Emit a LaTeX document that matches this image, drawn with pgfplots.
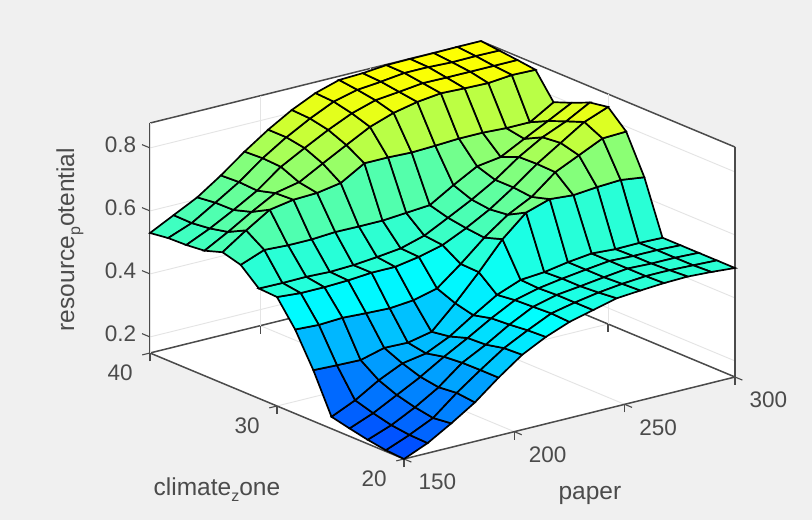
\documentclass[border=0pt]{standalone}
\usepackage{fontspec}
\setmainfont{Liberation Sans}
\usepackage{pgfplots}
\pgfplotsset{compat=1.18}
\definecolor{bgc}{RGB}{240,240,240}
\definecolor{axc}{RGB}{75,75,75}
\definecolor{gridc}{RGB}{228,228,228}
\newcommand{\sub}[1]{\raisebox{-0.45ex}{\fontsize{16}{16}\selectfont #1}}
\begin{document}
\begin{tikzpicture}[x=1pt,y=1pt]
\fill[bgc] (0,0) rectangle (812,520);
\useasboundingbox (0,0) rectangle (812,520);
\fill[white] (150,397) -- (482,480) -- (735,373) -- (735,143) -- (404,61) -- (150,167) -- cycle;
\begin{axis}[
  at={(150pt,61pt)}, anchor=south west,
  x={(2.2067pt,0.5467pt)}, y={(-12.7pt,5.3pt)}, z={(0pt,315pt)},
  xmin=150, xmax=300, ymin=20, ymax=40, zmin=0.149, zmax=0.879,
  xtick={150,200,250,300}, ytick={20,30,40}, ztick={0.2,0.4,0.6,0.8},
  xticklabels={150,200,250,300}, yticklabels={20,30,40}, zticklabels={0.2,0.4,0.6,0.8},
  grid=major, grid style={gridc,line width=0.9pt},
  axis line style={axc,line width=1.5pt},
  tick style={axc,line width=1.1pt},
  major z tick style={draw=none},
  major tick length=8pt, tick align=outside, xtick pos=left, ytick pos=left, ztick pos=left,
  ticklabel style={font=\fontsize{22.5}{24}\selectfont,text=axc},
  xticklabel style={anchor=center,xshift=26pt,yshift=-20pt},
  yticklabel style={anchor=center,xshift=-22pt,yshift=-18pt},
  zticklabel style={anchor=east,xshift=-3pt,yshift=0pt},
  xlabel={paper}, ylabel={climate\sub{z}one}, zlabel={resource\sub{p}otential},
  label style={font=\fontsize{24.5}{26}\selectfont,text=axc},
  xlabel style={at={(axis cs:179.7,10.52,0.149)},anchor=center,sloped=false,rotate=0,yshift=-2pt},
  ylabel style={at={(axis cs:77.7,22.17,0.149)},anchor=center,sloped=false,rotate=0,yshift=-3pt},
  zlabel style={at={(axis cs:113.7,40,0.572)},anchor=center,sloped=false,rotate=0},
  colormap={mm}{rgb255=(0,80,255) rgb255=(0,139,255) rgb255=(0,198,255) rgb255=(0,255,255) rgb255=(50,255,205) rgb255=(95,255,160) rgb255=(155,255,100) rgb255=(225,255,30) rgb255=(255,255,0)},
  clip=false,
]
\draw[axc,line width=1.1pt] (axis cs:150,40,0.2) -- ++(-8pt,3.3pt);
\draw[axc,line width=1.1pt] (axis cs:150,40,0.4) -- ++(-8pt,3.3pt);
\draw[axc,line width=1.1pt] (axis cs:150,40,0.6) -- ++(-8pt,3.3pt);
\draw[axc,line width=1.1pt] (axis cs:150,40,0.8) -- ++(-8pt,3.3pt);
\addplot3[surf, shader=flat corner, draw=black, fill=mapped color, line width=1.7pt, z buffer=sort, mesh/rows=15, mesh/ordering=y varies] table {
150 20 .149
150 21.43 .153
150 22.86 .162
150 24.29 .174
150 25.71 .187
150 27.14 .311
150 28.57 .416
150 30 .495
150 31.43 .498
150 32.86 .549
150 34.29 .565
150 35.71 .546
150 37.14 .540
150 38.57 .538
150 40 .530

160.71 20 .181
160.71 21.43 .183
160.71 22.86 .190
160.71 24.29 .204
160.71 25.71 .221
160.71 27.14 .308
160.71 28.57 .412
160.71 30 .489
160.71 31.43 .497
160.71 32.86 .578
160.71 34.29 .616
160.71 35.71 .587
160.71 37.14 .574
160.71 38.57 .567
160.71 40 .568

171.43 20 .225
171.43 21.43 .218
171.43 22.86 .228
171.43 24.29 .243
171.43 25.71 .266
171.43 27.14 .306
171.43 28.57 .416
171.43 30 .489
171.43 31.43 .498
171.43 32.86 .574
171.43 34.29 .663
171.43 35.71 .632
171.43 37.14 .614
171.43 38.57 .613
171.43 40 .606

182.14 20 .273
182.14 21.43 .279
182.14 22.86 .273
182.14 24.29 .282
182.14 25.71 .301
182.14 27.14 .326
182.14 28.57 .412
182.14 30 .492
182.14 31.43 .495
182.14 32.86 .574
182.14 34.29 .676
182.14 35.71 .673
182.14 37.14 .657
182.14 38.57 .660
182.14 40 .657

192.86 20 .333
192.86 21.43 .333
192.86 22.86 .332
192.86 24.29 .327
192.86 25.71 .314
192.86 27.14 .324
192.86 28.57 .409
192.86 30 .498
192.86 31.43 .498
192.86 32.86 .579
192.86 34.29 .679
192.86 35.71 .689
192.86 37.14 .714
192.86 38.57 .717
192.86 40 .714

203.57 20 .387
203.57 21.43 .384
203.57 22.86 .371
203.57 24.29 .368
203.57 25.71 .349
203.57 27.14 .340
203.57 28.57 .416
203.57 30 .498
203.57 31.43 .505
203.57 32.86 .578
203.57 34.29 .692
203.57 35.71 .730
203.57 37.14 .755
203.57 38.57 .765
203.57 40 .765

214.29 20 .425
214.29 21.43 .422
214.29 22.86 .416
214.29 24.29 .412
214.29 25.71 .398
214.29 27.14 .412
214.29 28.57 .435
214.29 30 .511
214.29 31.43 .514
214.29 32.86 .578
214.29 34.29 .736
214.29 35.71 .770
214.29 37.14 .794
214.29 38.57 .806
214.29 40 .809

225 20 .454
225 21.43 .457
225 22.86 .454
225 24.29 .451
225 25.71 .444
225 27.14 .492
225 28.57 .494
225 30 .530
225 31.43 .536
225 32.86 .584
225 34.29 .736
225 35.71 .809
225 37.14 .828
225 38.57 .841
225 40 .844

235.71 20 .473
235.71 21.43 .473
235.71 22.86 .473
235.71 24.29 .470
235.71 25.71 .473
235.71 27.14 .578
235.71 28.57 .559
235.71 30 .565
235.71 31.43 .574
235.71 32.86 .590
235.71 34.29 .733
235.71 35.71 .835
235.71 37.14 .851
235.71 38.57 .860
235.71 40 .867

246.43 20 .492
246.43 21.43 .486
246.43 22.86 .482
246.43 24.29 .482
246.43 25.71 .479
246.43 27.14 .644
246.43 28.57 .613
246.43 30 .606
246.43 31.43 .613
246.43 32.86 .635
246.43 34.29 .736
246.43 35.71 .851
246.43 37.14 .859
246.43 38.57 .867
246.43 40 .870

257.14 20 .498
257.14 21.43 .495
257.14 22.86 .492
257.14 24.29 .492
257.14 25.71 .492
257.14 27.14 .668
257.14 28.57 .651
257.14 30 .657
257.14 31.43 .657
257.14 32.86 .676
257.14 34.29 .740
257.14 35.71 .860
257.14 37.14 .868
257.14 38.57 .876
257.14 40 .877

267.86 20 .503
267.86 21.43 .501
267.86 22.86 .501
267.86 24.29 .501
267.86 25.71 .501
267.86 27.14 .662
267.86 28.57 .711
267.86 30 .713
267.86 31.43 .711
267.86 32.86 .687
267.86 34.29 .740
267.86 35.71 .857
267.86 37.14 .867
267.86 38.57 .876
267.86 40 .878

278.57 20 .505
278.57 21.43 .501
278.57 22.86 .498
278.57 24.29 .498
278.57 25.71 .496
278.57 27.14 .669
278.57 28.57 .746
278.57 30 .761
278.57 31.43 .755
278.57 32.86 .726
278.57 34.29 .736
278.57 35.71 .855
278.57 37.14 .867
278.57 38.57 .873
278.57 40 .878

289.29 20 .501
289.29 21.43 .498
289.29 22.86 .498
289.29 24.29 .498
289.29 25.71 .497
289.29 27.14 .673
289.29 28.57 .781
289.29 30 .809
289.29 31.43 .787
289.29 32.86 .764
289.29 34.29 .736
289.29 35.71 .862
289.29 37.14 .867
289.29 38.57 .874
289.29 40 .879

300 20 .495
300 21.43 .495
300 22.86 .495
300 24.29 .495
300 25.71 .495
300 27.14 .663
300 28.57 .784
300 30 .838
300 31.43 .828
300 32.86 .803
300 34.29 .781
300 35.71 .860
300 37.14 .867
300 38.57 .873
300 40 .879
};
\end{axis}
\end{tikzpicture}
\end{document}
